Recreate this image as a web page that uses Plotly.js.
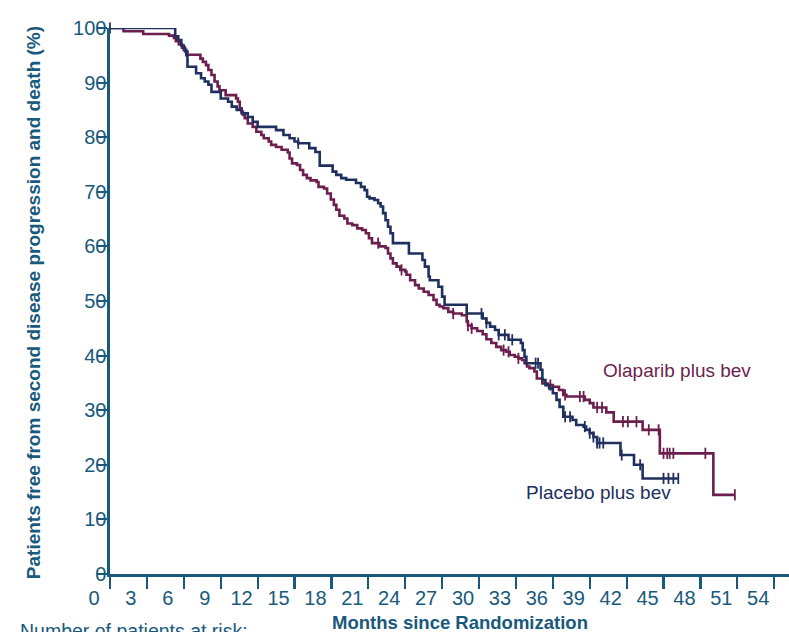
<!DOCTYPE html>
<html>
<head>
<meta charset="utf-8">
<script src="https://cdn.plot.ly/plotly-3.0.1.min.js"></script>
<style>
  html, body { margin: 0; padding: 0; background: #ffffff; }
  #chart { width: 789px; height: 632px; }
</style>
</head>
<body>
<div id="chart"></div>
<script>
// Kaplan-Meier estimates: time in months, survival in percent (step after each time)
const olaTime = [0, 1.1, 2.7, 4.8, 5.2, 5.35, 5.6, 5.85, 6.1, 6.3, 7.35, 7.55, 7.8, 8.0, 8.25, 8.5, 8.75, 8.9, 9.4,
  10.25, 10.4, 10.55, 10.7, 10.8, 10.95, 11.2, 11.6, 11.9, 12.3, 12.5, 12.9, 13.1, 13.5, 13.95, 14.45, 14.6, 14.8,
  15.2, 15.45, 15.7, 16.0, 16.3, 16.8, 16.95, 17.4, 17.65, 17.95, 18.2, 18.4, 18.65, 19.05, 19.3, 19.7, 20.1, 20.5,
  20.8, 21.05, 21.3, 21.9, 22.4, 22.6, 22.8, 23.0, 23.3, 23.6, 24.0, 24.1, 24.4, 24.8, 25.1, 25.5, 25.9, 26.3, 26.55,
  26.8, 27.1, 27.5, 27.9, 28.6, 29.0, 29.1, 29.4, 29.85, 30.3, 30.6, 31.0, 31.4, 31.8, 32.2, 32.5, 32.9, 33.2, 33.5,
  33.7, 33.9, 34.1, 34.5, 34.7, 35.15, 35.6, 36.0, 36.5, 36.85, 37.1, 38.6, 39.0, 39.3, 40.35, 40.95, 43.3, 44.7,
  49.05, 50.8];
const olaSurv = [100, 99.4, 98.9, 98.6, 98.2, 97.6, 97.0, 96.4, 95.7, 95.1, 94.4, 93.8, 93.2, 92.3, 91.4, 90.2, 89.3, 88.6, 87.7,
  87.1, 86.5, 85.3, 84.7, 84.1, 83.5, 82.5, 81.9, 81.0, 80.4, 79.8, 79.2, 78.6, 78.2, 77.7, 77.2, 76.1, 75.2,
  74.9, 74.0, 73.1, 72.5, 72.1, 71.8, 70.9, 70.6, 69.7, 68.6, 67.6, 66.7, 65.6, 65.1, 64.2, 63.9, 63.3, 63.0,
  62.4, 61.5, 60.6, 60.0, 59.7, 58.7, 57.8, 56.9, 56.3, 55.7, 55.4, 54.8, 53.8, 52.9, 52.3, 51.7, 51.1, 50.2, 49.3,
  49.0, 48.7, 48.0, 47.7, 47.4, 46.2, 45.5, 45.0, 44.5, 43.9, 43.0, 42.3, 41.6, 41.0, 40.7, 40.1, 39.8, 39.5, 39.2,
  38.6, 38.0, 37.7, 37.1, 35.8, 34.9, 34.6, 34.3, 33.7, 32.8, 32.5, 31.9, 31.3, 30.5, 29.6, 27.9, 26.4, 22.1,
  14.5, 14.5];
const olaCensor = [21.8, 23.7, 27.9, 29.1, 29.4, 32.0, 32.4, 33.2, 35.8, 37.0, 38.2, 38.5, 39.6, 40.0, 41.7, 42.1,
  42.8, 43.8, 44.6, 45.0, 45.3, 45.5, 45.8, 48.4, 50.8];

const plaTime = [0, 5.3, 5.55, 5.8, 6.0, 6.2, 6.3, 7.0, 7.4, 7.7, 8.0, 8.25, 9.0, 9.6, 9.9, 10.3, 10.7, 11.2, 11.6, 12.0,
  13.5, 14.1, 14.6, 15.0, 15.3, 16.2, 16.7, 17.05, 18.1, 18.4, 18.8, 19.2, 20.0, 20.4, 20.7, 20.9, 21.1, 21.5, 21.8,
  22.0, 22.2, 22.4, 22.6, 22.8, 23.0, 24.3, 25.4, 25.6, 25.9, 26.0, 26.7, 27.0, 27.2, 29.0, 30.3, 30.6, 30.9, 31.3,
  31.6, 32.4, 33.4, 33.55, 33.7, 33.85, 35.0, 35.15, 35.4, 35.7, 36.0, 36.3, 36.55, 36.85, 37.6, 37.9, 38.5, 38.7,
  39.0, 39.3, 39.6, 41.5, 42.6, 43.3, 46.2];
const plaSurv = [100, 98.5, 97.8, 96.8, 96.0, 95.0, 92.9, 91.7, 90.8, 90.2, 89.6, 88.3, 87.1, 86.5, 85.6, 85.0, 84.4, 83.7, 82.8, 81.9,
  81.3, 80.4, 79.8, 79.2, 78.9, 78.0, 77.3, 74.8, 73.7, 73.1, 72.5, 72.2, 71.6, 70.9, 70.3, 69.1, 68.8, 68.5, 67.9,
  67.3, 66.1, 64.8, 63.6, 62.4, 60.6, 58.7, 57.5, 56.3, 54.5, 53.8, 52.6, 50.8, 49.3, 47.7, 46.8, 46.0, 45.3, 44.7,
  43.8, 42.9, 42.3, 41.0, 39.8, 38.6, 37.4, 35.5, 34.6, 34.0, 33.1, 31.9, 30.6, 28.8, 28.2, 27.3, 27.0, 26.4,
  25.8, 25.1, 24.0, 21.8, 20.0, 17.5, 17.5];
const plaCensor = [0, 15.3, 30.2, 30.6, 31.6, 32.1, 32.7, 34.6, 34.8, 37.0, 37.4, 38.6, 39.0, 39.3, 39.6, 39.8, 40.1,
  41.6, 43.1, 45.0, 45.4, 45.8, 46.2];

const xTicks = [0, 3, 6, 9, 12, 15, 18, 21, 24, 27, 30, 33, 36, 39, 42, 45, 48, 51, 54];
const yTicks = [0, 10, 20, 30, 40, 50, 60, 70, 80, 90, 100];

const armNames = ['Olaparib plus bev', 'Placebo plus bev'];
const xTitle = 'Months since Randomization';
const yTitle = 'Patients free from second disease progression and death (%)';
const riskTitle = 'Number of patients at risk:';

const OLA = '#6c1f4e';
const PLA = '#20305e';
const AXIS = '#18597c';
const FONT = '"Liberation Sans", Arial, sans-serif';

// survival value of a step curve at time t
function stepAt(times, surv, t) {
  let v = surv[0];
  for (let i = 0; i < times.length; i++) { if (times[i] <= t) v = surv[i]; }
  return v;
}

function curve(times, surv, color) {
  return { x: times, y: surv, type: 'scatter', mode: 'lines', line: { shape: 'hv', color: color, width: 2.6 },
    cliponaxis: false, hoverinfo: 'skip', showlegend: false };
}
function censors(ct, times, surv, color) {
  return { x: ct, y: ct.map(t => stepAt(times, surv, t)), type: 'scatter', mode: 'markers',
    marker: { symbol: 'line-ns-open', size: 8, color: color, line: { color: color, width: 1.8 } },
    cliponaxis: false, hoverinfo: 'skip', showlegend: false };
}

const data = [
  curve(olaTime, olaSurv, OLA),
  censors(olaCensor, olaTime, olaSurv, OLA),
  curve(plaTime, plaSurv, PLA),
  censors(plaCensor, plaTime, plaSurv, PLA)
];

const layout = {
  width: 789, height: 632,
  margin: { l: 110, r: 0, t: 28, b: 58, pad: 0 },
  paper_bgcolor: '#ffffff', plot_bgcolor: '#ffffff',
  font: { family: FONT, size: 20, color: AXIS },
  showlegend: false,
  xaxis: {
    range: [0, 55.2], showgrid: false, zeroline: false,
    showline: true, linecolor: AXIS, linewidth: 2.6,
    ticks: 'outside', ticklen: 12, tickwidth: 2.2, tickcolor: AXIS,
    tickvals: xTicks, ticktext: xTicks.map(String),
    ticklabelshift: -16, ticklabelstandoff: -8,
    tickfont: { family: FONT, size: 20, color: AXIS }
  },
  yaxis: {
    range: [0, 100], showgrid: false, zeroline: false,
    showline: true, linecolor: AXIS, linewidth: 2.6,
    ticks: 'outside', ticklen: 10, tickwidth: 2, tickcolor: AXIS,
    tickvals: yTicks, ticktext: yTicks.map(String),
    ticklabelstandoff: -13,
    tickfont: { family: FONT, size: 20, color: AXIS }
  },
  annotations: [
    { text: '<b>' + xTitle + '</b>', xref: 'paper', yref: 'paper', x: 0.515, y: -0.088,
      xanchor: 'center', yanchor: 'middle', showarrow: false, font: { family: FONT, size: 18.5, color: AXIS } },
    { text: '<b>' + yTitle + '</b>', xref: 'paper', yref: 'paper', x: -0.1134, y: 0.496, textangle: -90,
      xanchor: 'center', yanchor: 'middle', showarrow: false, font: { family: FONT, size: 19, color: AXIS } },
    { text: riskTitle, xref: 'paper', yref: 'paper', x: -0.136, y: -0.08,
      xanchor: 'left', yanchor: 'top', showarrow: false, font: { family: FONT, size: 19.5, color: AXIS } },
    { text: armNames[0], xref: 'x', yref: 'y', x: 46.1, y: 37.2, xanchor: 'center', yanchor: 'middle',
      showarrow: false, font: { family: FONT, size: 19, color: OLA } },
    { text: armNames[1], xref: 'x', yref: 'y', x: 39.75, y: 15.0, xanchor: 'center', yanchor: 'middle',
      showarrow: false, font: { family: FONT, size: 19, color: PLA } }
  ]
};

Plotly.newPlot('chart', data, layout, { staticPlot: true, displayModeBar: false });
</script>
</body>
</html>
